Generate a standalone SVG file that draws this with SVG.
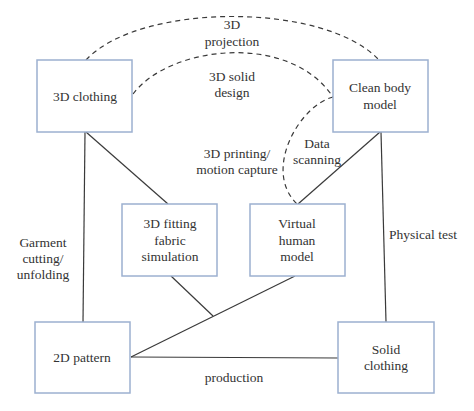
<svg xmlns="http://www.w3.org/2000/svg" width="474" height="411" viewBox="0 0 474 411">
<style>
.box{fill:#fff;stroke:#9cb0d0;stroke-width:1.5}
.ln{fill:none;stroke:#3a3a3a;stroke-width:1.2}
.ds{fill:none;stroke:#3a3a3a;stroke-width:1.2;stroke-dasharray:5,4}
.t{font-family:'Liberation Serif','DejaVu Serif',serif;font-size:13.5px;fill:#333;text-anchor:middle}
</style>
<rect width="474" height="411" fill="#fff"/>
<g id="connectors">
<path class="ds" d="M86,60 C140,2 325,2 379,60"/>
<path class="ds" d="M133,94 C170,45 290,32 333,97"/>
<path class="ds" d="M333,97 C300,105 262,170 297,204"/>
<line class="ln" x1="85" y1="132" x2="83" y2="322"/>
<line class="ln" x1="86" y1="132" x2="168" y2="204"/>
<line class="ln" x1="380" y1="132" x2="298" y2="204"/>
<line class="ln" x1="381" y1="132" x2="386" y2="322"/>
<line class="ln" x1="171" y1="276" x2="213" y2="316"/>
<line class="ln" x1="295" y1="276" x2="131" y2="357"/>
<line class="ln" x1="131" y1="357" x2="338" y2="358"/>
</g>
<g id="edge-labels" class="t" font-family="Liberation Serif, DejaVu Serif, serif">
<text x="232" y="29">3D</text>
<text x="232" y="46">projection</text>
<text x="232" y="81">3D solid</text>
<text x="232" y="97">design</text>
<text x="237" y="158">3D printing/</text>
<text x="237" y="174">motion capture</text>
<text x="317" y="148">Data</text>
<text x="317" y="164">scanning</text>
<text x="43" y="247">Garment</text>
<text x="43" y="263">cutting/</text>
<text x="43" y="279">unfolding</text>
<text x="423" y="239">Physical test</text>
<text x="234" y="382">production</text>
</g>
<g id="n-3d-clothing">
<rect class="box" x="37" y="60" width="95" height="72"/>
<text class="t" x="85" y="101">3D clothing</text>
</g>
<g id="n-clean-body">
<rect class="box" x="333" y="60" width="95" height="72"/>
<text class="t" x="380" y="92">Clean body</text>
<text class="t" x="380" y="109">model</text>
</g>
<g id="n-3d-fitting">
<rect class="box" x="122" y="204" width="95" height="72"/>
<text class="t" x="170" y="228">3D fitting</text>
<text class="t" x="170" y="245">fabric</text>
<text class="t" x="170" y="261">simulation</text>
</g>
<g id="n-virtual-human">
<rect class="box" x="250" y="204" width="95" height="72"/>
<text class="t" x="297" y="228">Virtual</text>
<text class="t" x="297" y="245">human</text>
<text class="t" x="297" y="261">model</text>
</g>
<g id="n-2d-pattern">
<rect class="box" x="35" y="322" width="95" height="71"/>
<text class="t" x="82" y="362">2D pattern</text>
</g>
<g id="n-solid-clothing">
<rect class="box" x="338" y="322" width="96" height="71"/>
<text class="t" x="386" y="354">Solid</text>
<text class="t" x="386" y="370">clothing</text>
</g>
</svg>
